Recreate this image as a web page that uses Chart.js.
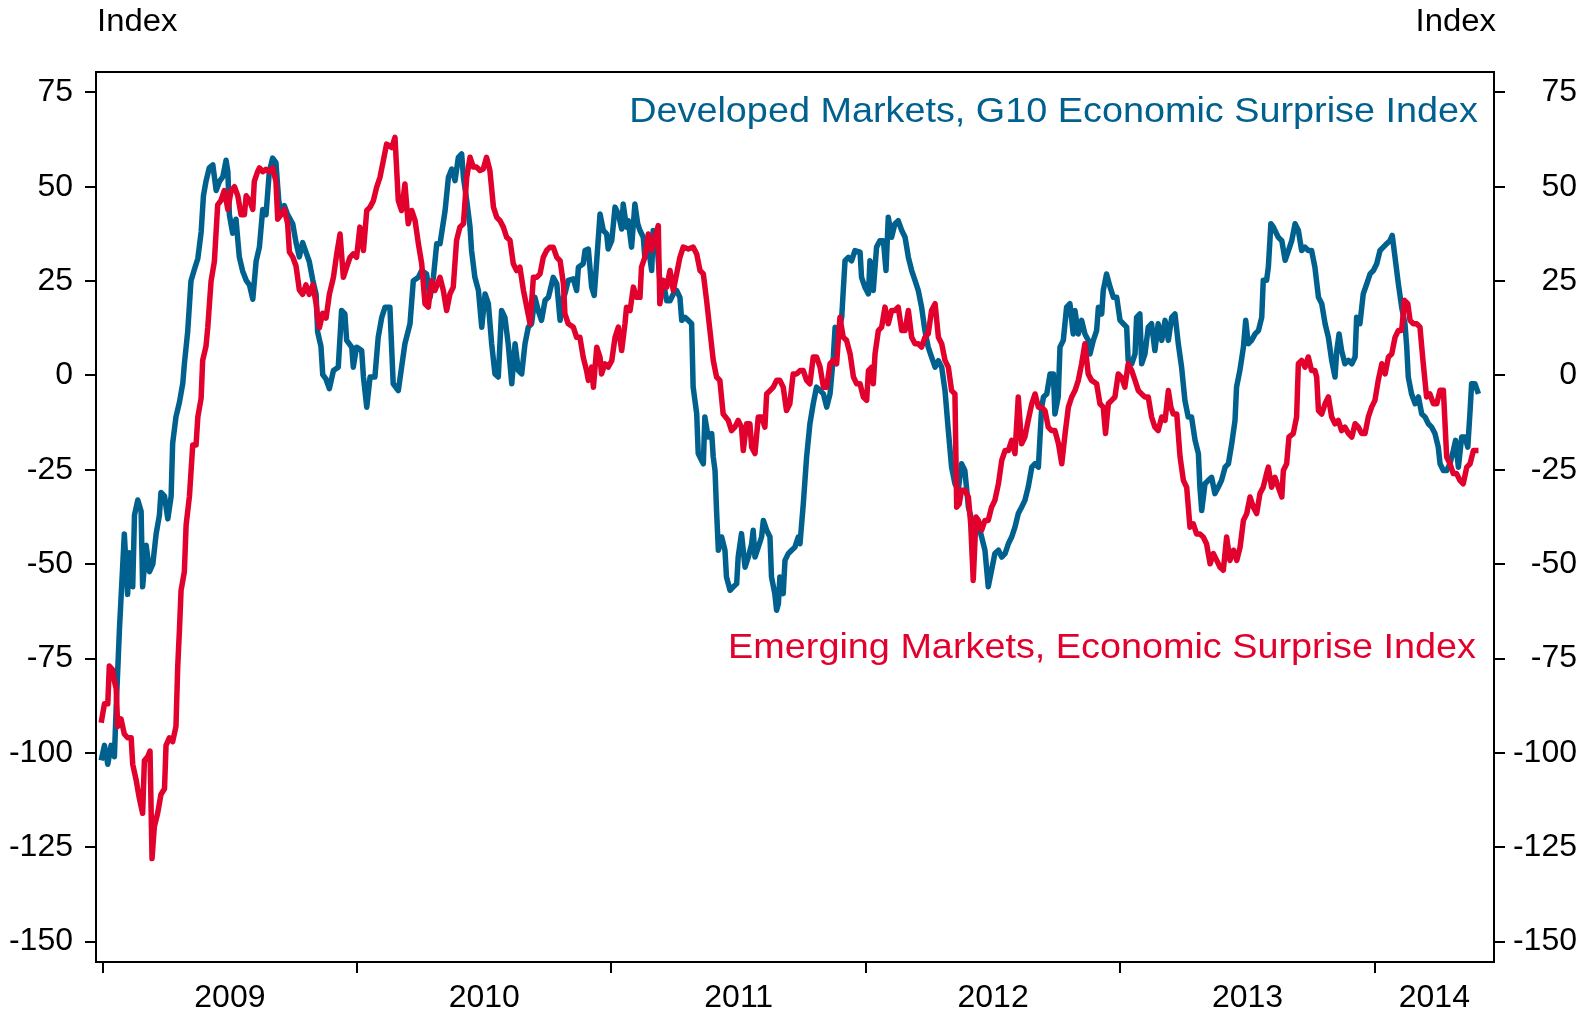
<!DOCTYPE html>
<html>
<head>
<meta charset="utf-8">
<script src="https://cdn.jsdelivr.net/npm/chart.js@4.4.1/dist/chart.umd.min.js"></script>
<style>
  html, body { margin: 0; padding: 0; background: #ffffff; }
  #wrap { width: 1593px; height: 1014px; position: relative; }
</style>
</head>
<body>
<div id="wrap"><canvas id="c"></canvas></div>
<script>
// ---------------- DATA ----------------
const seriesNames = ['Developed Markets, G10 Economic Surprise Index', 'Emerging Markets, Economic Surprise Index'];
const yearTicks = [2009, 2010, 2011, 2012, 2013, 2014];
const yearLabels = ['2009', '2010', '2011', '2012', '2013', '2014'];
const yTicks = [75, 50, 25, 0, -25, -50, -75, -100, -125, -150];
const axisTitle = 'Index';

// Developed Markets (decimal year, index value)
const dmDates = [
2008.994,2009.007,2009.020,2009.033,2009.046,2009.053,2009.066,2009.079,2009.085,2009.098,2009.105,2009.118,2009.125,2009.138,2009.151,2009.157,2009.171,2009.184,2009.197,2009.210,2009.223,2009.229,2009.243,2009.256,2009.269,2009.275,2009.288,2009.302,2009.315,2009.321,2009.334,2009.347,2009.360,2009.374,2009.387,2009.396,2009.406,2009.419,2009.433,2009.446,2009.459,2009.472,2009.485,2009.492,2009.498,2009.511,2009.524,2009.537,2009.550,2009.564,2009.577,2009.590,2009.603,2009.616,2009.629,2009.642,2009.655,2009.668,2009.681,2009.692,2009.701,2009.714,2009.727,2009.747,2009.760,2009.773,2009.786,2009.799,2009.812,2009.826,2009.839,2009.845,2009.858,2009.865,2009.878,2009.891,
2009.907,2009.926,2009.939,2009.952,2009.959,2009.979,2009.985,2009.998,2010.018,2010.025,2010.038,2010.051,2010.070,2010.083,2010.097,2010.110,2010.129,2010.142,2010.162,2010.175,2010.188,2010.208,2010.221,2010.241,2010.254,2010.273,2010.287,2010.300,2010.313,2010.326,2010.346,2010.359,2010.372,2010.385,2010.398,2010.411,2010.418,2010.431,2010.444,2010.450,2010.463,2010.477,2010.490,2010.503,2010.516,2010.529,2010.542,2010.555,2010.568,2010.581,2010.594,2010.608,2010.621,2010.634,2010.647,2010.660,2010.673,2010.686,2010.699,2010.712,2010.725,2010.739,2010.752,2010.771,2010.785,2010.798,2010.811,
2010.817,2010.830,2010.850,2010.863,2010.870,2010.889,2010.896,2010.909,2010.922,2010.932,2010.942,2010.955,2010.968,2010.981,2010.987,2011.001,2011.014,2011.027,2011.040,2011.046,2011.059,2011.066,2011.079,2011.092,2011.103,2011.112,2011.125,2011.131,2011.145,2011.158,2011.164,2011.177,2011.190,2011.204,2011.217,2011.230,2011.243,2011.256,2011.269,2011.276,2011.289,2011.302,2011.315,2011.321,2011.335,2011.341,2011.354,2011.361,2011.367,2011.380,2011.394,2011.400,2011.407,2011.413,2011.420,2011.433,2011.446,2011.452,2011.466,2011.479,2011.492,2011.498,2011.511,2011.525,2011.538,2011.551,2011.557,2011.564,2011.577,2011.590,2011.597,2011.610,2011.623,2011.629,2011.642,2011.649,2011.656,2011.662,2011.675,2011.682,2011.695,2011.708,2011.721,2011.734,
2011.741,2011.754,2011.767,2011.780,2011.793,2011.806,2011.820,2011.833,2011.846,2011.859,2011.872,2011.879,2011.892,2011.905,2011.911,2011.918,2011.931,2011.944,2011.957,2011.977,2011.983,2011.996,2012.010,2012.016,2012.029,2012.042,2012.055,2012.069,2012.079,2012.088,2012.101,2012.114,2012.127,2012.141,2012.154,2012.167,2012.180,2012.193,2012.206,2012.219,2012.232,2012.245,2012.258,2012.272,2012.285,2012.298,2012.311,2012.324,2012.337,2012.350,2012.363,2012.376,2012.389,2012.403,2012.416,2012.429,2012.442,2012.455,2012.468,2012.481,2012.494,2012.507,2012.521,2012.534,2012.547,2012.560,2012.573,2012.586,2012.599,2012.612,2012.625,2012.638,2012.652,
2012.665,2012.678,2012.691,2012.698,2012.711,2012.724,2012.737,2012.743,2012.756,2012.763,2012.776,2012.789,2012.802,2012.815,2012.822,2012.835,2012.848,2012.861,2012.874,2012.881,2012.894,2012.907,2012.914,2012.927,2012.933,2012.946,2012.960,2012.973,2012.986,2012.999,2013.012,2013.025,2013.031,2013.045,2013.058,2013.064,2013.077,2013.084,2013.097,2013.110,2013.123,2013.136,2013.149,2013.163,2013.176,2013.189,2013.202,2013.215,2013.228,2013.241,2013.254,2013.267,2013.280,2013.294,2013.307,2013.313,2013.320,2013.333,2013.346,2013.359,2013.372,2013.385,2013.398,2013.412,2013.425,2013.438,2013.451,2013.457,2013.470,2013.484,2013.493,2013.503,2013.516,2013.530,2013.543,2013.556,2013.562,2013.575,2013.582,2013.592,2013.602,
2013.608,2013.621,2013.635,2013.648,2013.661,2013.674,2013.687,2013.700,2013.713,2013.726,2013.739,2013.752,2013.765,2013.779,2013.792,2013.805,2013.818,2013.831,2013.844,2013.851,2013.860,2013.870,2013.883,2013.897,2013.910,2013.923,2013.929,2013.942,2013.955,2013.969,2013.982,2013.995,2014.008,2014.021,2014.034,2014.047,2014.060,2014.069,2014.080,2014.093,2014.106,2014.119,2014.126,2014.132,2014.145,2014.159,2014.172,2014.185,2014.198,2014.211,2014.224,2014.237,2014.250,2014.257,2014.270,2014.283,2014.296,2014.309,2014.318,2014.329,2014.342,2014.355,2014.366,2014.375,2014.381,2014.394,2014.408
];
const dmValues = [
-102,-98,-103,-98,-101,-88,-67,-50,-42,-58,-47,-56,-37,-33,-36,-56,-45,-52,-50,-42,-37,-31,-32,-38,-32,-18,-11,-7,-2,3,11.5,25,28,31,38,47.6,51.4,55,55.8,49,51.4,52.6,57,54,42.6,37.7,41.4,31.4,27.7,25.2,24,20.2,30.2,34,44,42.6,54,57.6,56.4,46.4,42.6,45,42.6,40.2,35.2,31.4,35.2,32.7,30.2,25.2,21.5,11.5,7.7,0.2,-1,-3.5,
1.3,2.2,17.2,16.3,9.3,7.5,2.2,7.5,6.6,-0.4,-8.4,-0.4,-0.4,10.1,15.4,18.1,18.1,-2.2,-4,2.2,8.4,13.7,25.1,26,27.8,26.9,20.7,26,34.9,34.9,43.7,52.5,54.7,51.6,57.8,58.7,52.5,46.3,39.3,33.1,26,22.5,12.8,21.6,19,8.4,0.4,-0.4,17.2,15.4,8.4,-2.2,8.4,1.3,0.4,8.4,12.8,13.7,20.7,17.2,14.6,19.9,20.7,26,24.3,14.6,20.7,
21.6,25.2,25.6,22.5,28.7,29.6,33.1,33.5,23.4,21.2,30.4,42.8,38.4,37.5,33.5,35.7,44.6,42.8,38.8,45.4,39.3,41,34,45.4,40.2,38.4,36.6,31.3,34,27.8,38.4,36.6,25.2,24.7,19.8,19.8,21.6,22.5,20.7,14.6,15.4,14.6,13.7,-3.1,-10.2,-20.7,-22.5,-23.4,-11,-16.3,-15.4,-21.6,-25.2,-35.8,-46.3,-42.8,-46.3,-53.4,-56.9,-56,-55.2,-48.1,-41.9,-50.8,-48.1,-44.6,-41,-48.1,-45.5,-42.8,-38.4,-41,-42.8,-53.4,-57.8,-62.2,-60.5,-53.4,-57.8,-49,-47.2,-46.3,-45.5,-42.8,
-44.6,-34,-21.6,-12.8,-7.5,-3.1,-4,-4.9,-8.4,-4.9,4.9,12.8,11,15.4,22.5,30.4,31.3,30.4,33.1,32.7,26,23.4,21.6,30.4,22.5,34,35.7,35.7,27.8,41.9,36.6,40.2,41,38.4,36.6,31.3,27.8,25.2,22.5,18.1,11.9,7.5,4.9,2.2,3.9,2.2,-4,-14.6,-24.3,-28.7,-30.4,-23.4,-25.2,-34.9,-38.4,-41,-39.3,-42.8,-46.3,-56,-51.6,-47.2,-46.3,-48.1,-47.2,-44.6,-42.8,-40.2,-36.6,-34.9,-33.1,-29.6,-24.3,
-23.4,-24.3,-8.4,-5.7,-4.9,0.4,0.4,-10.2,-5.7,7.5,9.3,18.1,19,11,17.2,11,14.6,11,9.3,5.7,9.3,11.9,18.1,16.3,22.5,26.9,23.4,20.7,20.7,14.6,13.7,12.8,4,3.1,5.7,15.4,16.3,3.1,5.7,12.8,13.7,6.6,13.7,9.3,14.6,9.3,15.4,16.3,8.4,2.2,-6.6,-11,-11,-17.2,-20.7,-29.6,-35.8,-28.7,-27.8,-27,-31.3,-29.6,-27.8,-24.3,-23.4,-18.1,-11.9,-3.1,1.3,7.5,14.6,8.4,9.3,11,11.9,15.4,25.2,25.2,28.7,40.2,39.3,
38.4,36.6,35.7,30.5,33.1,35.7,40.2,38.4,33.1,34,33.1,33.1,28.7,20.7,19,13.7,10.1,4,-0.4,6.6,11,6.6,3.1,4,3.1,4.9,15.4,13.7,21.6,24.3,26.9,27.8,29.6,33.1,34,34.9,35.7,37.1,31.3,24.3,18.1,13.7,7.5,-0.4,-4.9,-7.5,-5.7,-10.2,-11,-12.8,-13.7,-15.4,-19,-23.4,-25.2,-25.2,-23.4,-19.9,-17.2,-24.3,-16.3,-16.3,-19,-9.3,-2.2,-2.2,-4.9
];

// Emerging Markets (decimal year, index value)
const emDates = [
2008.994,2009.007,2009.020,2009.026,2009.039,2009.046,2009.053,2009.059,2009.072,2009.085,2009.098,2009.112,2009.118,2009.131,2009.144,2009.157,2009.164,2009.177,2009.186,2009.194,2009.203,2009.216,2009.229,2009.243,2009.249,2009.262,2009.275,2009.288,2009.295,2009.302,2009.308,2009.321,2009.328,2009.341,2009.354,2009.367,2009.374,2009.387,2009.393,2009.406,2009.413,2009.426,2009.439,2009.452,2009.465,2009.478,2009.492,2009.505,2009.518,2009.531,2009.544,2009.557,2009.564,2009.577,2009.590,2009.596,2009.609,2009.616,2009.629,2009.642,2009.655,2009.668,2009.681,2009.688,2009.701,2009.714,2009.727,2009.734,2009.747,2009.760,2009.773,2009.786,2009.799,2009.812,2009.826,2009.839,2009.845,2009.852,2009.865,2009.878,2009.891,
2009.907,2009.920,2009.933,2009.946,2009.959,2009.972,2009.985,2009.998,2010.011,2010.025,2010.038,2010.051,2010.064,2010.077,2010.090,2010.103,2010.116,2010.136,2010.149,2010.162,2010.175,2010.188,2010.201,2010.215,2010.228,2010.241,2010.254,2010.267,2010.280,2010.293,2010.306,2010.326,2010.339,2010.352,2010.365,2010.378,2010.391,2010.404,2010.418,2010.431,2010.444,2010.457,2010.470,2010.483,2010.496,2010.509,2010.522,2010.536,2010.549,2010.562,2010.575,2010.588,2010.601,2010.614,2010.627,2010.640,2010.654,2010.667,2010.680,2010.693,2010.706,2010.719,2010.732,2010.745,2010.758,2010.771,2010.785,2010.798,2010.811,
2010.817,2010.830,2010.850,2010.863,2010.876,2010.889,2010.902,2010.909,2010.922,2010.929,2010.942,2010.955,2010.961,2010.974,2010.987,2011.001,2011.014,2011.027,2011.040,2011.053,2011.059,2011.073,2011.086,2011.099,2011.112,2011.118,2011.131,2011.145,2011.158,2011.171,2011.184,2011.190,2011.204,2011.217,2011.230,2011.243,2011.256,2011.269,2011.282,2011.302,2011.321,2011.335,2011.348,2011.361,2011.374,2011.387,2011.400,2011.413,2011.426,2011.439,2011.459,2011.472,2011.485,2011.498,2011.511,2011.518,2011.531,2011.544,2011.551,2011.564,2011.577,2011.590,2011.603,2011.610,2011.623,2011.636,2011.649,2011.662,2011.675,2011.688,2011.701,2011.714,2011.728,2011.741,
2011.754,2011.767,2011.780,2011.793,2011.806,2011.820,2011.833,2011.846,2011.859,2011.872,2011.885,2011.898,2011.911,2011.924,2011.938,2011.951,2011.964,2011.977,2011.990,2012.003,2012.010,2012.023,2012.029,2012.036,2012.049,2012.062,2012.075,2012.088,2012.101,2012.114,2012.127,2012.141,2012.154,2012.167,2012.180,2012.193,2012.206,2012.219,2012.232,2012.245,2012.258,2012.272,2012.285,2012.298,2012.311,2012.324,2012.337,2012.350,2012.357,2012.367,2012.376,2012.389,2012.403,2012.412,2012.422,2012.433,2012.442,2012.455,2012.468,2012.481,2012.494,2012.507,2012.521,2012.534,2012.547,2012.560,2012.573,2012.586,2012.599,2012.612,2012.625,2012.638,2012.652,
2012.665,2012.678,2012.691,2012.704,2012.717,2012.730,2012.743,2012.757,2012.770,2012.783,2012.796,2012.809,2012.822,2012.835,2012.848,2012.861,2012.874,2012.887,2012.907,2012.920,2012.933,2012.942,2012.953,2012.966,2012.979,2012.992,2013.005,2013.018,2013.031,2013.045,2013.058,2013.071,2013.084,2013.097,2013.110,2013.123,2013.136,2013.149,2013.163,2013.176,2013.189,2013.199,2013.208,2013.222,2013.235,2013.248,2013.261,2013.274,2013.287,2013.300,2013.313,2013.326,2013.339,2013.353,2013.366,2013.379,2013.392,2013.405,2013.418,2013.431,2013.445,2013.458,2013.471,2013.484,2013.497,2013.510,2013.523,2013.536,2013.549,2013.562,2013.575,2013.582,2013.595,
2013.608,2013.621,2013.635,2013.641,2013.654,2013.663,2013.680,2013.693,2013.700,2013.713,2013.726,2013.739,2013.752,2013.765,2013.772,2013.779,2013.792,2013.805,2013.818,2013.831,2013.844,2013.857,2013.870,2013.883,2013.897,2013.910,2013.923,2013.936,2013.949,2013.962,2013.975,2013.988,2014.001,2014.014,2014.028,2014.041,2014.054,2014.067,2014.080,2014.093,2014.106,2014.117,2014.130,2014.139,2014.152,2014.165,2014.178,2014.191,2014.204,2014.217,2014.231,2014.244,2014.257,2014.270,2014.283,2014.296,2014.309,2014.322,2014.335,2014.348,2014.362,2014.375,2014.388,2014.408
];
const emValues = [
-92,-87,-87,-77,-78,-81,-83,-93,-91,-95,-96,-96,-103,-107,-112,-116,-102,-101,-99.5,-128,-119.5,-116,-111,-109.5,-98,-96,-97,-93,-77,-67,-57,-52,-39.6,-32,-18.4,-18.4,-11,-6,4,7.7,12.7,25,30.2,45.2,46.4,49,44,49,50,47.6,42.6,42.6,47.6,46.4,44,51.4,54,55,54,54.6,54,55,51.4,41.4,42.6,44,40.2,32.7,31.4,29,22.7,21.5,24,21.5,24,19,15.2,12.7,16.5,15.2,21.5,
26,32.2,37.5,26,28.7,31.3,32.2,31.3,39.3,33.1,43.7,44.6,46.3,49.9,52.5,56.9,61.3,60.4,63.1,46.3,43.7,50.7,40.2,43.7,41,34.9,29.6,19,18.1,25.1,22.5,26,22.5,17.2,21.6,23.4,35.8,39.3,40.2,52.5,57.8,55.2,55.2,54.3,54.7,57.8,54.3,44.6,41.9,41,39.3,36.6,35.8,29.6,27.8,28.7,22.5,18.1,13.7,26,26,26.9,31.3,33.1,34,34,31.3,30.4,24.3,
16.3,13.7,12.8,10.1,10.1,4.8,1.3,-1.3,2.2,-3.1,7.5,4.8,0.4,3.1,2.2,3.9,10.1,12.8,6.6,13.7,18.1,17.2,23.4,20.7,20.7,28.7,31.3,37.5,33.1,36.6,39.7,19,25.2,23.4,27.8,22.5,26.9,31.3,34,33.5,34,32.2,27.8,26.9,19.8,11.9,4,-0.4,-1.3,-10.2,-11.9,-14.6,-13.7,-11.9,-13.7,-19.9,-12.8,-12.8,-19,-20.7,-11,-11,-13.7,-4.9,-4,-3.1,-1.3,-1.3,-3.1,-9.3,-7.5,0.4,0.4,1.3,
1.3,-1.3,-2.2,4.9,4.9,2.2,-3.1,-3.1,3.1,4,3.1,15.4,10.1,9.3,5.7,-0.4,-2.2,-2.2,-5.7,-6.6,1.3,2.2,-2.2,5.7,11.9,12.8,18.1,13.7,17.2,17.2,18.1,11.9,11.9,17.2,10.1,8.4,8.4,7.5,10.1,11,17.2,19,10.1,8.4,4,2.2,-4,-4.9,-34.9,-34,-30.4,-30.4,-32.2,-39.3,-54.3,-37.5,-38.4,-41,-38.4,-38.4,-34.9,-33.1,-28.7,-22.5,-19.9,-19.9,-17.2,-20.7,-5.7,-18.1,-16.3,-11.9,-7.5,
-4.9,-8.4,-8.4,-9.3,-13.7,-14.6,-14.6,-18.1,-23.4,-15.4,-8.4,-5.7,-4,-1.3,3.1,8.4,0.4,-1.3,-2.2,-7.5,-8.4,-15.4,-7.5,-6.6,-5.7,0.4,-0.5,-3.1,3.1,1.3,-1.3,-4,-4.9,-5.7,-5.7,-11,-13.7,-14.6,-11,-11.9,-4,-8.4,-10.2,-10.2,-21.6,-27.8,-29.6,-40.2,-39.3,-42,-42,-42.8,-44.6,-49.9,-47.2,-49,-50.8,-51.6,-42.8,-49,-46.3,-49,-45.5,-38.4,-36.6,-32.2,-34.9,-36.6,-31.3,-29.6,-26,-24.3,-29.6,
-27,-29.6,-32.2,-25.2,-23.4,-16.3,-15.4,-11,3.1,4,2.2,4.9,1.3,1.3,-0.4,-9.3,-10.2,-7.5,-5.7,-11,-12.8,-11.9,-14.6,-13.7,-15.4,-16.3,-12.8,-13.7,-15.4,-15.4,-11,-8.4,-6.6,-1.3,3.1,0.4,4.9,5.7,10.1,11.9,11.9,19.9,19,14.6,13.7,13.7,12.8,3.1,-5.7,-4.9,-7.5,-7.5,-3.9,-3.9,-21.6,-23.4,-26,-26,-27.8,-28.7,-24.3,-23.4,-19.9,-19.9
];

// ---------------- STYLE ----------------
const BLUE = '#00618f';
const RED = '#e2002c';
const FONT = "'Liberation Sans', Arial, Helvetica, sans-serif";
const X_MIN = 2008.9737, X_MAX = 2014.469;
const Y_MIN = -155.4, Y_MAX = 80.4;

const toPoints = (xs, ys) => xs.map((x, i) => ({ x: x, y: ys[i] }));

// year labels are centred inside each year span (last span ends at the axis end)
const xLabelAt = {};
yearTicks.forEach((yr, i) => {
  const end = Math.min(yr + 1, X_MAX);
  xLabelAt[((yr + end) / 2).toFixed(4)] = yearLabels[i];
});
const xTickValues = yearTicks.concat(Object.keys(xLabelAt).map(Number));

const textPlugin = {
  id: 'frameAndText',
  afterDraw(chart) {
    const { ctx, chartArea: a } = chart;
    ctx.save();
    ctx.strokeStyle = '#000';
    ctx.lineWidth = 2;
    ctx.strokeRect(a.left, a.top, a.right - a.left, a.bottom - a.top);

    const drawText = (txt, x, y, size, color, align, sx) => {
      ctx.save();
      ctx.font = size + 'px ' + FONT;
      ctx.fillStyle = color;
      ctx.textBaseline = 'middle';
      ctx.textAlign = align;
      ctx.translate(x, y);
      ctx.scale(sx, 1);
      ctx.fillText(txt, 0, 0);
      ctx.restore();
    };
    // axis unit titles
    drawText(axisTitle, a.left + 1, 22, 31, '#000', 'left', 1.06);
    drawText(axisTitle, a.right + 2, 22, 31, '#000', 'right', 1.06);
    // series labels
    drawText(seriesNames[0], a.right - 16, a.top + 40, 35, BLUE, 'right', 1.08);
    drawText(seriesNames[1], a.right - 18, a.top + 576, 35, RED, 'right', 1.08);
    ctx.restore();
  }
};

const yAxisCommon = {
  type: 'linear',
  min: Y_MIN,
  max: Y_MAX,
  afterBuildTicks: (s) => { s.ticks = yTicks.map(v => ({ value: v })); },
  grid: { drawOnChartArea: false, drawTicks: true, tickLength: 11, tickWidth: 2, tickColor: '#000', lineWidth: 2, color: '#000' },
  border: { display: false },
  ticks: { color: '#000', font: { family: FONT, size: 32 }, padding: 12, callback: (v) => String(v), autoSkip: false }
};

new Chart(document.getElementById('c'), {
  type: 'line',
  data: {
    datasets: [
      { label: seriesNames[1], data: toPoints(emDates, emValues), borderColor: RED, backgroundColor: RED,
        borderWidth: 5.5, pointRadius: 0, tension: 0, borderJoinStyle: 'round', borderCapStyle: 'butt', fill: false },
      { label: seriesNames[0], data: toPoints(dmDates, dmValues), borderColor: BLUE, backgroundColor: BLUE,
        borderWidth: 5.5, pointRadius: 0, tension: 0, borderJoinStyle: 'round', borderCapStyle: 'butt', fill: false }
    ]
  },
  options: {
    responsive: true,
    maintainAspectRatio: false,
    animation: false,
    devicePixelRatio: 1,
    layout: { padding: { top: 72, right: 16, left: 0, bottom: 0 } },
    plugins: { legend: { display: false }, tooltip: { enabled: false } },
    scales: {
      x: {
        type: 'linear',
        position: 'bottom',
        min: X_MIN,
        max: X_MAX,
        afterBuildTicks: (s) => { s.ticks = xTickValues.map(v => ({ value: v })); },
        afterFit: (s) => { s.height = 52; },
        grid: {
          drawOnChartArea: false, drawTicks: true, tickLength: 11, lineWidth: 2,
          tickColor: (c) => (c.tick && Number.isInteger(c.tick.value)) ? '#000' : 'rgba(0,0,0,0)'
        },
        border: { display: false },
        ticks: {
          color: '#000', font: { family: FONT, size: 32 }, padding: 6, autoSkip: false, maxRotation: 0,
          callback: (v) => xLabelAt[Number(v).toFixed(4)] || ''
        }
      },
      y: Object.assign({}, yAxisCommon, {
        position: 'left',
        afterFit: (s) => { s.width = 96; }
      }),
      y2: Object.assign({}, yAxisCommon, {
        position: 'right',
        afterFit: (s) => { s.width = 83; },
        ticks: Object.assign({}, yAxisCommon.ticks, { crossAlign: 'far' })
      })
    }
  },
  plugins: [textPlugin]
});
</script>
</body>
</html>
